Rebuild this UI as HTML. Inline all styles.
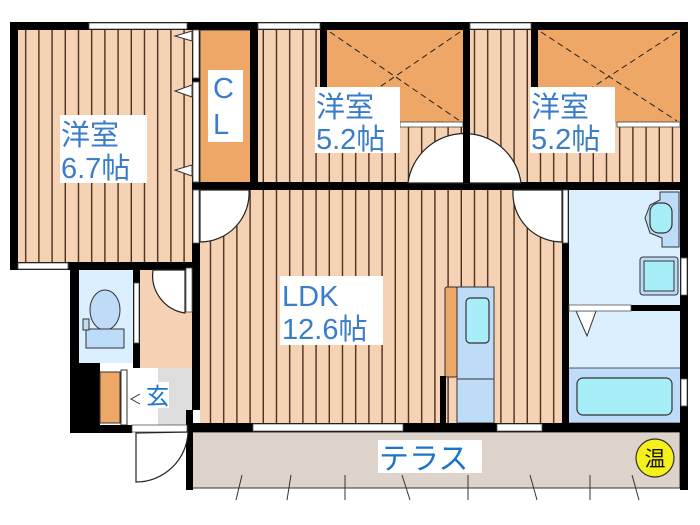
<!DOCTYPE html>
<html><head><meta charset="utf-8"><style>
html,body{margin:0;padding:0;background:#fff;width:700px;height:525px;overflow:hidden}
svg{display:block}
text{font-family:"Liberation Sans","Noto Sans CJK JP",sans-serif}
</style></head><body>
<svg width="700" height="525" viewBox="0 0 700 525" xmlns="http://www.w3.org/2000/svg">
<defs>
<pattern id="fl" width="13.2" height="10" patternUnits="userSpaceOnUse">
<rect width="13.2" height="10" fill="#f5d2b4"/><rect x="11.8" width="1.6" height="10" fill="#4a2e1c"/>
</pattern>
</defs>
<!-- floors -->
<rect x="18" y="30" width="175" height="233" fill="url(#fl)"/>
<rect x="258" y="30" width="206" height="153" fill="url(#fl)"/>
<rect x="470" y="30" width="212" height="153" fill="url(#fl)"/>
<rect x="200" y="189" width="364" height="236" fill="url(#fl)"/>
<!-- closets -->
<rect x="200" y="30" width="51" height="153" fill="#efa767" stroke="#333" stroke-width="1"/>
<rect x="327" y="30" width="136" height="93" fill="#efa767"/>
<rect x="538" y="30" width="142" height="93" fill="#efa767"/>
<g stroke="#222" stroke-width="1" stroke-dasharray="6,4">
<line x1="330" y1="32" x2="460" y2="121"/><line x1="460" y1="32" x2="330" y2="121"/>
<line x1="541" y1="32" x2="677" y2="121"/><line x1="677" y1="32" x2="541" y2="121"/>
</g>
<rect x="400" y="122" width="63" height="5" fill="#fff" stroke="#444" stroke-width="0.8"/>
<rect x="617" y="122" width="63" height="5" fill="#fff" stroke="#444" stroke-width="0.8"/>
<!-- wet area -->
<rect x="568" y="189" width="113" height="236" fill="#dcefff"/>
<rect x="568" y="368" width="113" height="55" fill="#bedcf7" stroke="#333" stroke-width="0.8"/>
<rect x="577" y="378" width="95" height="37" rx="6" fill="#a8eef8" stroke="#333" stroke-width="1.2"/>
<path d="M660 192 L679 192 L679 247 L662 247 L662 238 L650 233 L645 218 L650 205 L660 200 Z" fill="#bedcf7" stroke="#333"/>
<rect x="650" y="203" width="22" height="30" rx="9" fill="#a8eef8" stroke="#333" stroke-width="1.2"/>
<rect x="640" y="257" width="38" height="38" rx="3" fill="#bedcf7" stroke="#333"/>
<rect x="644" y="261" width="30" height="30" fill="#a8eef8" stroke="#333"/>
<polygon points="576,311 596,311 587,336" fill="#fff" stroke="#333"/>
<!-- kitchen -->
<rect x="445" y="287" width="12" height="90" rx="2" fill="#efa767" stroke="#333"/>
<rect x="457" y="287" width="37" height="136" fill="#bedcf7" stroke="#333"/>
<line x1="457" y1="379" x2="494" y2="379" stroke="#333"/>
<rect x="466" y="298" width="23" height="45" rx="4" fill="#a8eef8" stroke="#333" stroke-width="1.2"/>
<!-- toilet / hall / genkan -->
<rect x="79" y="270" width="54" height="93" fill="#dcefff"/>
<ellipse cx="105" cy="310" rx="15" ry="20" fill="#bedcf7" stroke="#333"/>
<rect x="86" y="329" width="38" height="19" fill="#bedcf7" stroke="#333"/>
<rect x="83" y="319" width="6" height="11" fill="#bedcf7" stroke="#333"/>
<rect x="140" y="270" width="52" height="98" fill="#f5d2b4"/>
<rect x="130" y="368" width="62" height="57" fill="#ddd"/>
<rect x="130" y="368" width="28" height="57" fill="#fff"/>
<rect x="70" y="363" width="30" height="70" fill="#000"/>
<rect x="100" y="372" width="20" height="51" fill="#efa767" stroke="#333"/>
<rect x="121" y="370" width="6" height="55" fill="#fff" stroke="#333"/>
<polyline points="140,394 131,399 140,404" fill="none" stroke="#333"/>
<!-- terrace -->
<rect x="190" y="432" width="490" height="56" fill="#ddd3cb" stroke="#333" stroke-width="1"/>
<g stroke="#333" stroke-width="1">
<line x1="242" y1="475" x2="236" y2="500"/><line x1="291" y1="475" x2="287" y2="500"/>
<line x1="345" y1="475" x2="345" y2="500"/><line x1="402" y1="475" x2="410" y2="500"/>
<line x1="468" y1="475" x2="468" y2="500"/><line x1="530" y1="475" x2="537" y2="500"/>
<line x1="590" y1="475" x2="590" y2="500"/><line x1="632" y1="475" x2="639" y2="500"/>
</g>
<!-- walls -->
<g fill="#000">
<rect x="10" y="22" width="678" height="8"/>
<rect x="10" y="22" width="8" height="248"/>
<rect x="10" y="262" width="183" height="8"/>
<rect x="70" y="262" width="9" height="171"/>
<rect x="70" y="425" width="62" height="8"/>
<rect x="192" y="22" width="8" height="388"/>
<rect x="186" y="410" width="7" height="80"/>
<rect x="250" y="22" width="8" height="168"/>
<rect x="463" y="22" width="7" height="168"/>
<rect x="320" y="30" width="7" height="93"/>
<rect x="531" y="30" width="7" height="93"/>
<rect x="192" y="182" width="491" height="8"/>
<rect x="680" y="22" width="8" height="468"/>
<rect x="562" y="190" width="7" height="240"/>
<rect x="569" y="305" width="112" height="6"/>
<rect x="192" y="423" width="490" height="9"/>
<rect x="133" y="270" width="7" height="98"/>
<rect x="440" y="376" width="6" height="50"/>
</g>
<!-- windows/openings -->
<g fill="#fff" stroke="#555" stroke-width="0.8">
<rect x="89" y="23" width="98" height="6"/><rect x="258" y="23" width="62" height="6"/>
<rect x="470" y="23" width="61" height="6"/><rect x="18" y="263" width="50" height="6"/>
<rect x="253" y="424" width="150" height="7"/><rect x="497" y="424" width="45" height="7"/>
<rect x="681" y="258" width="6" height="37"/><rect x="681" y="379" width="6" height="27"/>
<rect x="193" y="30" width="6" height="48"/><rect x="193" y="82" width="6" height="100"/>
<rect x="193" y="190" width="6" height="53"/><rect x="563" y="190" width="5" height="53"/>
<rect x="569" y="305" width="62" height="6"/><rect x="186" y="268" width="6" height="44"/>
<rect x="134" y="283" width="5" height="60"/><rect x="132" y="425" width="55" height="7"/>
</g>
<polygon points="192,31 175,36 192,41" fill="#fff" stroke="#333"/>
<polygon points="192,85 175,91 192,97" fill="#fff" stroke="#333"/>
<polygon points="192,165 175,170 192,176" fill="#fff" stroke="#333"/>
<!-- doors -->
<g fill="#fff" stroke="#222" stroke-width="1.2">
<path d="M200 190 L249 190 A49 49 0 0 1 200 242 Z"/>
<path d="M562 190 L513 190 A49 49 0 0 0 562 242 Z"/>
<path d="M408 183 A57 57 0 0 1 521 183 Z"/>
<path d="M185 270 L153 270 A38 38 0 0 0 185 313 Z"/>
<path d="M136 433 L136 482 A52 52 0 0 0 188 432 Z"/>
</g>
<rect x="463" y="130" width="7" height="53" fill="#000"/>
<!-- labels -->
<g fill="#fff">
<rect x="60" y="115" width="87" height="68"/><rect x="208" y="70" width="35" height="72"/>
<rect x="315" y="87" width="85" height="66"/><rect x="530" y="87" width="85" height="66"/>
<rect x="280" y="276" width="103" height="69"/><rect x="378" y="440" width="104" height="33"/>
<rect x="145" y="382" width="24" height="26"/>
</g>
<g fill="#3a7dc8" font-size="29">
<text x="61" y="145">洋室</text><text x="61" y="178">6.7帖</text>
<text x="316" y="117">洋室</text><text x="316" y="149">5.2帖</text>
<text x="531" y="117">洋室</text><text x="531" y="149">5.2帖</text>
<text x="282" y="306">LDK</text><text x="282" y="339">12.6帖</text>
<text x="213" y="98">C</text><text x="213" y="134">L</text>
</g>
<text x="379" y="469" font-size="30" fill="#1b74c9">テラス</text>
<text x="146" y="404" font-size="23" fill="#1b74c9">玄</text>
<circle cx="655" cy="458" r="19" fill="#f5ef1a" stroke="#333" stroke-width="1.2"/>
<text x="655" y="466" font-size="21" text-anchor="middle" fill="#111">温</text>
</svg>
</body></html>
